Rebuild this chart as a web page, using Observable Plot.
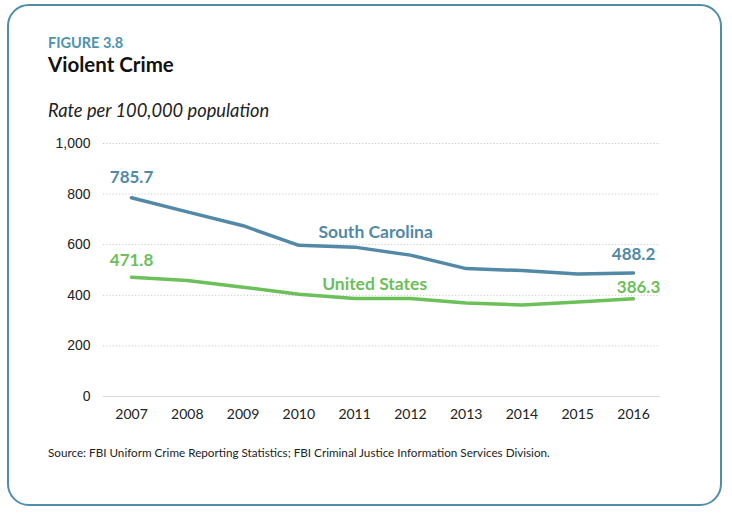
<!DOCTYPE html>
<html>
<head>
<meta charset="utf-8">
<script src="https://cdn.jsdelivr.net/npm/d3@7"></script>
<script src="https://cdn.jsdelivr.net/npm/@observablehq/plot@0.6"></script>
<style>
  html, body { margin: 0; padding: 0; background: #fff; width: 732px; height: 513px; overflow: hidden; }
  #frame { position: absolute; left: 7px; top: 4px; width: 715px; height: 502px; box-sizing: border-box;
           border: 2px solid #4f8dab; border-radius: 22px; }
  .txt { position: absolute; left: 48px; font-family: Lato, "Open Sans", sans-serif; white-space: nowrap; }
  #fig { top: 34px; font-size: 14.5px; font-weight: 700; color: #4d93ad; }
  #title { top: 52px; font-size: 20.5px; font-weight: 700; color: #111; }
  #sub { top: 99px; font-size: 18.3px; font-style: italic; color: #222; }
  #src { top: 445px; font-size: 11.7px; color: #222; }
  #chart { position: absolute; left: 0; top: 130px; }
  #chart g[aria-label="y-axis tick label"] { font-family: "Liberation Sans", Arial, sans-serif; }
</style>
</head>
<body>
<div id="frame"></div>
<div class="txt" id="fig">FIGURE 3.8</div>
<div class="txt" id="title">Violent Crime</div>
<div class="txt" id="sub">Rate per 100,000 population</div>
<div id="chart"></div>
<div class="txt" id="src">Source: FBI Uniform Crime Reporting Statistics; FBI Criminal Justice Information Services Division.</div>
<script>
const years = [2007, 2008, 2009, 2010, 2011, 2012, 2013, 2014, 2015, 2016];
const southCarolina = [785.7, 729.7, 675.1, 597.7, 590.4, 558.8, 505.5, 497.7, 484.1, 488.2];
const unitedStates = [471.8, 458.6, 431.9, 404.5, 387.1, 387.8, 369.1, 361.6, 373.7, 386.3];
const yTicks = [0, 200, 400, 600, 800, 1000];
const seriesNames = ["South Carolina", "United States"];
const colors = ["#5189a6", "#6cc05a"];

const rows = [];
years.forEach((y, i) => {
  rows.push({year: y, value: southCarolina[i], series: seriesNames[0]});
  rows.push({year: y, value: unitedStates[i], series: seriesNames[1]});
});
const sc = rows.filter(d => d.series === seriesNames[0]);
const us = rows.filter(d => d.series === seriesNames[1]);
const fmt = d3.format(".1f");

const chart = Plot.plot({
  width: 732,
  height: 300,
  marginLeft: 103,
  marginRight: 72,
  marginTop: 13,
  marginBottom: 34,
  style: {fontFamily: "Lato, sans-serif", fontSize: "14px", color: "#222", background: "transparent"},
  x: {domain: [2007, 2016], insetLeft: 28, insetRight: 27, label: null},
  y: {domain: [0, 1000], label: null},
  color: {domain: seriesNames, range: colors},
  marks: [
    Plot.ruleY(yTicks.filter(t => t > 0), {stroke: "#c8c8c8", strokeDasharray: "1.2,2"}),
    Plot.ruleY([0], {stroke: "#dcdcdc", strokeWidth: 1}),
    Plot.axisY({ticks: yTicks, tickFormat: d3.format(","), tickSize: 0, tickPadding: 13, label: null, fontSize: 14}),
    Plot.axisX({ticks: years, tickFormat: d => String(d), tickSize: 0, tickPadding: 13, label: null, fontSize: 14}),
    Plot.line(rows, {x: "year", y: "value", z: "series", stroke: "series", strokeWidth: 3.5}),
    // endpoint value labels
    Plot.text([sc[0]], {x: "year", y: "value", text: d => fmt(d.value), fill: colors[0], dy: -20, fontSize: 17, fontWeight: 700}),
    Plot.text([us[0]], {x: "year", y: "value", text: d => fmt(d.value), fill: colors[1], dy: -17, fontSize: 17, fontWeight: 700}),
    Plot.text([sc[sc.length - 1]], {x: "year", y: "value", text: d => fmt(d.value), fill: colors[0], dy: -18, fontSize: 17, fontWeight: 700}),
    Plot.text([us[us.length - 1]], {x: "year", y: "value", text: d => fmt(d.value), fill: colors[1], dy: -11, dx: 5, fontSize: 17, fontWeight: 700}),
    // series labels
    Plot.text([sc[4]], {x: "year", y: "value", text: "series", fill: colors[0], dy: -15, dx: 21, fontSize: 17.5, fontWeight: 700}),
    Plot.text([us[4]], {x: "year", y: "value", text: "series", fill: colors[1], dy: -14, dx: 20, fontSize: 17.5, fontWeight: 700})
  ]
});
document.getElementById("chart").appendChild(chart);
</script>
</body>
</html>
